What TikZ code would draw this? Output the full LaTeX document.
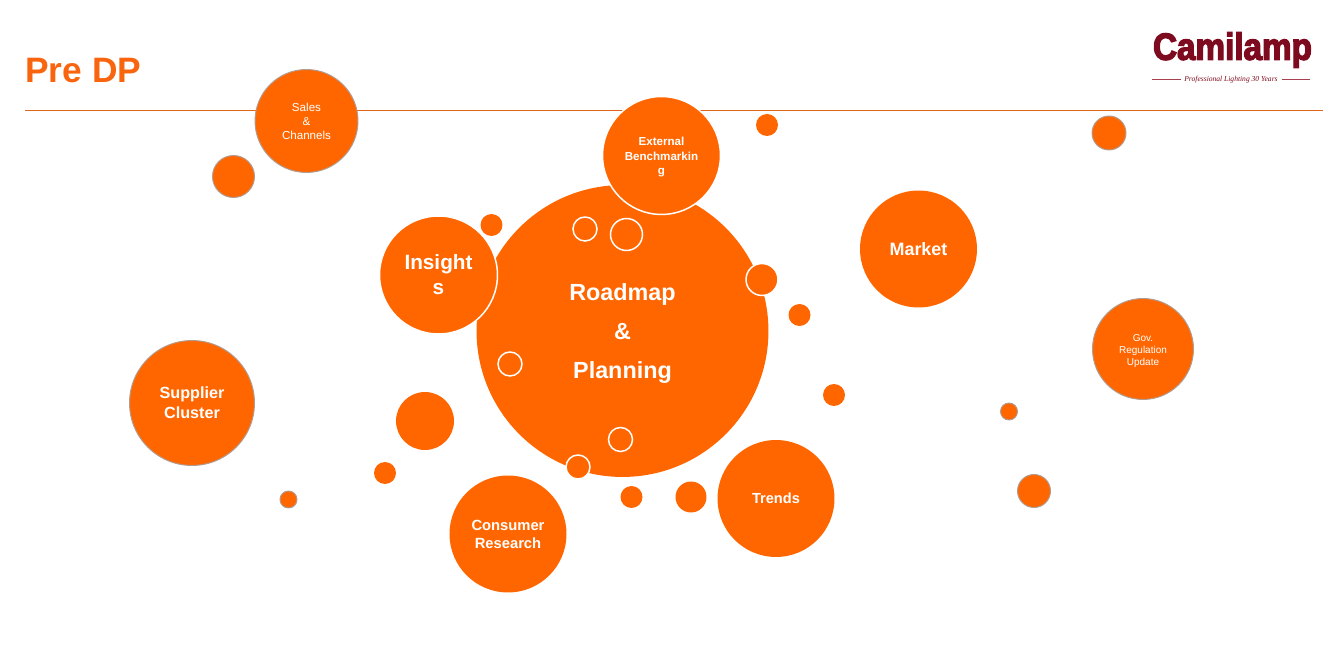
\documentclass[tikz,border=0pt]{standalone}
\usepackage{fontspec}
\setmainfont{Liberation Sans}
\newfontfamily\logofont[FakeBold=3.5,FakeStretch=0.88]{Liberation Sans}
\newfontfamily\taglinefont{Liberation Serif}
\definecolor{bubbleorange}{HTML}{FF6600}
\definecolor{titleorange}{HTML}{F9650F}
\definecolor{ruleorange}{HTML}{E2661C}
\definecolor{rimgray}{HTML}{B09C90}
\definecolor{logored}{HTML}{7D0A1E}
\definecolor{taglinered}{HTML}{A8404F}
\tikzset{
  bubble/.style={circle, fill=bubbleorange, inner sep=0pt, outer sep=0pt, text=white, align=center, minimum size=#1*0.04cm},
  rimmed/.style={bubble=#1, draw=rimgray, line width=0.55pt},
  ringed/.style={bubble=#1, draw=white, line width=0.85pt},
  hollow/.style={circle, draw=white, line width=0.85pt, inner sep=0pt, outer sep=0pt, minimum size=#1*0.04cm},
}

\begin{document}
\begin{tikzpicture}[x=0.02cm, y=-0.02cm]
  \useasboundingbox (0, 0) rectangle (1340, 651);

  % Heading and rule
  \node (title) [anchor=west, inner sep=0pt, text=titleorange, font=\fontsize{20.1}{24}\bfseries\selectfont] at (25, 71) {Pre DP};
  \coordinate (ruleL) at (25, 110.5);
  \coordinate (ruleR) at (1323, 110.5);
  \draw [ruleorange, line width=0.6pt] (ruleL) -- (ruleR);

  % Logo
  \node (logo) [text=logored, inner sep=0pt, font=\fontsize{21.5}{26}\logofont\bfseries\selectfont] at (1232.5, 50) {Camilamp};
  \node (tagline) [text=logored, inner sep=0pt, font=\fontsize{4.3}{5}\taglinefont\itshape\selectfont] at (1231, 79.5) {Professional Lighting 30 Years};
  \coordinate (tagL) at (1152, 79.5);
  \coordinate (tagR) at (1310, 79.5);
  \draw [taglinered, line width=0.3pt] (tagL) -- ([xshift=-2pt]tagline.west);
  \draw [taglinered, line width=0.3pt] ([xshift=2pt]tagline.east) -- (tagR);

  % Main bubble and the ones lying on it
  \node (roadmap) [bubble=146, font=\fontsize{13.3}{22.2}\bfseries\selectfont] at (622.5, 331) {\rule{0pt}{12pt}Roadmap\\\&\\Planning};
  \node (external) [ringed=59, font=\fontsize{6.6}{8.5}\bfseries\selectfont] at (661.5, 155.5) {\rule{0pt}{6.6pt}External\\Benchmarkin\\g};
  \node (insights) [ringed=59, font=\fontsize{11.8}{14.2}\bfseries\selectfont] at (438.5, 275) {Insight\\s};
  \node (holeA) [hollow=12] at (585, 229) {};
  \node (holeB) [hollow=16] at (626.5, 234.5) {};
  \node (holeC) [hollow=12] at (510, 364) {};
  \node (holeD) [hollow=12] at (620.5, 439.5) {};
  \node (dotE) [ringed=16] at (762, 279.5) {};
  \node (dotS) [ringed=12] at (578, 467) {};

  % Labelled bubbles around it
  \node (sales) [rimmed=51.5, font=\fontsize{6.6}{8}\selectfont] at (306.5, 121) {Sales\\\&\\Channels};
  \node (market) [bubble=58.5, font=\fontsize{10.2}{12}\bfseries\selectfont] at (918.5, 249) {Market};
  \node (gov) [rimmed=50.5, font=\fontsize{5.7}{7.1}\selectfont] at (1143, 349) {\rule{0pt}{6.3pt}Gov.\\Regulation\\Update};
  \node (supplier) [rimmed=62.5, font=\fontsize{9.2}{11.4}\bfseries\selectfont] at (192, 403) {Supplier\\Cluster};
  \node (trends) [bubble=58.5, font=\fontsize{8.3}{10}\bfseries\selectfont] at (776, 498.5) {Trends};
  \node (consumer) [bubble=58.5, font=\fontsize{8.4}{10.2}\bfseries\selectfont] at (508, 534) {Consumer\\Research};

  % Loose dots
  \node (dotA) [rimmed=21] at (233.5, 176.5) {};
  \node (dotB) [bubble=11] at (767, 125) {};
  \node (dotC) [rimmed=17] at (1109, 133) {};
  \node (dotD) [bubble=11] at (491.5, 225) {};
  \node (dotF) [bubble=11] at (799.5, 315) {};
  \node (dotG) [bubble=11] at (834, 395) {};
  \node (dotH) [rimmed=8.5] at (1009, 411.5) {};
  \node (dotI) [rimmed=16.5] at (1034, 491) {};
  \node (dotJ) [bubble=29] at (425, 421) {};
  \node (dotK) [bubble=11] at (385, 473) {};
  \node (dotL) [rimmed=8.5] at (288.5, 499.5) {};
  \node (dotM) [bubble=11] at (631.5, 497) {};
  \node (dotN) [bubble=15.5] at (691, 497) {};
\end{tikzpicture}
\end{document}
